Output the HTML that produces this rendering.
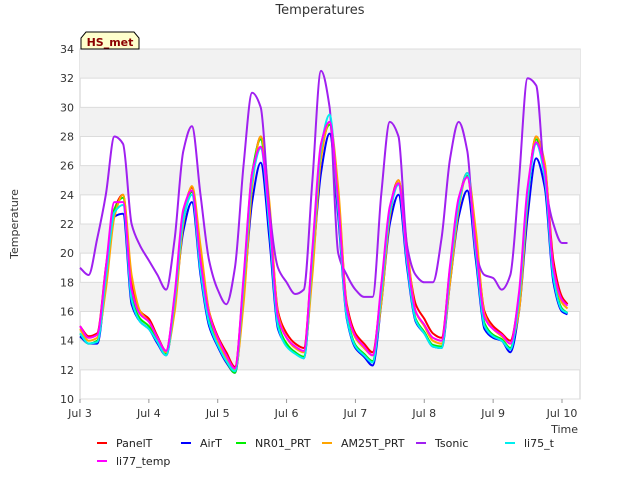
<!DOCTYPE html>
<html><head><meta charset="utf-8"><style>
body{margin:0;background:#fff;font-family:"Liberation Sans","DejaVu Sans",sans-serif;}
svg text{font-family:"DejaVu Sans","Liberation Sans",sans-serif;}
</style></head><body>
<svg id="chart" width="640" height="480">
<text x="320" y="14" text-anchor="middle" font-size="13" fill="#333">Temperatures</text>
<g id="bands"></g><g id="grid"></g><g id="axes"></g><g id="series"></g>
<text x="18" y="224" transform="rotate(-90 18 224)" text-anchor="middle" font-size="11" fill="#333">Temperature</text>
<text x="578" y="433" text-anchor="end" font-size="11" fill="#333">Time</text>
<g>
<path d="M81,49 L81,38 L86,32 L134,32 L139,38 L139,49 Z" fill="#ffffcc" stroke="#000" stroke-width="1"/>
<text x="110" y="46" text-anchor="middle" font-size="11" font-weight="bold" fill="#8b0000">HS_met</text>
</g>
<g id="legend"></g>
</svg>
<script>
const yTicks=[10,12,14,16,18,20,22,24,26,28,30,32,34];
const xTickLabels=["Jul 3","Jul 4","Jul 5","Jul 6","Jul 7","Jul 8","Jul 9","Jul 10"];
const xTickDays=[3,4,5,6,7,8,9,10];
const seriesNames=["PanelT","AirT","NR01_PRT","AM25T_PRT","Tsonic","li75_t","li77_temp"];
const seriesColors=["#ff0000","#0000ff","#00ee00","#ffa500","#a020f0","#00eeee","#ff00ff"];
const times=[3,3.125,3.25,3.375,3.5,3.625,3.75,3.875,4,4.125,4.25,4.375,4.5,4.625,4.75,4.875,5,5.125,5.25,5.375,5.5,5.625,5.75,5.875,6,6.125,6.25,6.375,6.5,6.625,6.75,6.875,7,7.125,7.25,7.375,7.5,7.625,7.75,7.875,8,8.125,8.25,8.375,8.5,8.625,8.75,8.875,9,9.125,9.25,9.375,9.5,9.625,9.75,9.875,10,10.08];
const panelT=[15,14.3,14.5,19,23,24,18,16,15.5,14.3,13.3,17,22.5,24.5,20,16,14.3,13.2,12.2,18,25,28,23,16,14.5,13.8,13.5,20,27,29,24,16.5,14.5,13.8,13.2,17.5,23,25,20,16.5,15.5,14.5,14.2,19,23.5,25.5,21,16,15,14.5,14,17,24,28,26,19.5,17,16.5];
const airT=[14.3,13.8,13.8,18,22.5,22.7,16.5,15.3,14.8,13.8,13,16.5,21.5,23.5,18.5,15,13.6,12.5,11.8,17,23.5,26.2,21,14.8,13.7,13.2,12.8,19,25.5,28.2,22.5,15.5,13.5,12.9,12.3,16.5,22,24,19,15.3,14.5,13.6,13.5,18,22.5,24.3,19.5,14.8,14.2,14,13.2,16,22.5,26.5,24.5,18,16,15.8];
const nr01=[14.5,13.8,14,18.5,23,23.8,17,15.5,15,14,13.1,17,22.5,24.2,19,15.5,13.8,12.6,11.8,18,25.5,27.8,22,15.2,13.8,13.2,12.9,20,27,28.8,23,15.8,13.7,13.1,12.6,17.5,23,24.8,19.5,15.5,14.6,13.7,13.6,19,23.5,25.3,20,15.2,14.4,14.1,13.5,17,24,27.8,25.5,18.5,16.2,15.9];
const am25t=[14.8,14,14.2,17.5,22.5,24,18.5,16,15.3,14.2,13.2,16,22,24.6,20.5,16,14,12.8,12,16.5,24.5,28,23.5,15.8,14.2,13.5,13.2,18.5,26.5,29,24.5,16.3,14.2,13.5,13,16.5,22.5,25,20.5,16,15,14,13.8,18,23,25.5,21.5,15.8,14.8,14.3,13.8,16,23.5,28,26.2,19,16.6,16.2];
const tsonic=[19,18.5,21,24,28,27.5,22,20.5,19.5,18.5,17.5,21,27,28.7,24,19.5,17.5,16.5,19,26,31,30,23,19,18,17.2,17.5,25,32.5,30,20,18.5,17.5,17,17,24,29,28,20.5,18.5,18,18,21,26.5,29,27,20,18.5,18.3,17.5,18.5,25,32,31.5,25,22,20.7,20.7];
const li75=[14.5,13.8,13.9,18.3,22.8,23.3,16.8,15.3,14.8,13.9,13,16.8,22.3,24,18.8,15.2,13.7,12.6,11.9,17.8,25,27.2,21.8,15,13.6,13.1,12.8,19.8,27.2,29.5,23,15.6,13.6,13,12.5,17.2,22.8,24.7,19.3,15.4,14.5,13.6,13.5,18.8,23.3,25.5,20,15,14.3,14,13.4,16.8,23.8,27.5,25.2,18.3,16.1,15.9];
const li77=[15,14.2,14.4,19,23.5,23.5,17.5,15.8,15.3,14.2,13.3,17.2,23,24.3,19.5,15.8,14.2,13,12.1,18.3,25.5,27.3,22.5,15.6,14.2,13.6,13.3,20.3,27.5,29,23.5,16.2,14.3,13.6,13,17.8,23.2,24.8,19.8,16,15.1,14.2,14,19.2,23.8,25.2,20.5,15.6,14.8,14.4,13.8,17.3,24.5,27.6,25.7,19,16.8,16.4];
const seriesValues=[panelT,airT,nr01,am25t,tsonic,li75,li77];
const L=80,R=580,T=49,B=399,ymin=10,ymax=34,xmin=3,xmax=10.2616;
const ys=v=>B-(v-ymin)*(B-T)/(ymax-ymin);
const xs=d=>L+(d-xmin)*(R-L)/(xmax-xmin);
const NS="http://www.w3.org/2000/svg";
function mk(tag,attrs,parent){const e=document.createElementNS(NS,tag);for(const k in attrs)e.setAttribute(k,attrs[k]);parent.appendChild(e);return e;}
function smoothPath(px,py){
  const n=px.length,m=[],d=[];
  for(let i=0;i<n-1;i++)d.push((py[i+1]-py[i])/(px[i+1]-px[i]));
  for(let i=0;i<n;i++){
    if(i===0)m.push(d[0]);else if(i===n-1)m.push(d[n-2]);
    else m.push(d[i-1]*d[i]<=0?0:2/(1/d[i-1]+1/d[i]));
  }
  let s='M'+px[0].toFixed(1)+','+py[0].toFixed(1);
  for(let i=0;i<n-1;i++){const h=(px[i+1]-px[i])/3;
    s+=' C'+(px[i]+h).toFixed(1)+','+(py[i]+m[i]*h).toFixed(1)+' '+(px[i+1]-h).toFixed(1)+','+(py[i+1]-m[i+1]*h).toFixed(1)+' '+px[i+1].toFixed(1)+','+py[i+1].toFixed(1);}
  return s;
}
const bands=document.getElementById('bands'),grid=document.getElementById('grid'),axes=document.getElementById('axes'),ser=document.getElementById('series'),leg=document.getElementById('legend');
mk('rect',{x:L,y:T,width:R-L,height:B-T,fill:'#fff',stroke:'#ccc'},bands);
for(let i=0;i<yTicks.length-1;i++){if((yTicks.length-2-i)%2===0){const r=mk('rect',{x:L,y:ys(yTicks[i+1]),width:R-L,height:ys(yTicks[i])-ys(yTicks[i+1]),fill:'#f2f2f2'},bands);

}}
yTicks.forEach(v=>{const l=mk('line',{x1:L,x2:R,y1:ys(v),y2:ys(v),stroke:'#dcdcdc'},grid);


const t=mk('text',{x:L-6,y:ys(v)+4,'text-anchor':'end','font-size':'11',fill:'#333'},axes);t.textContent=v;

});
xTickDays.forEach((d,i)=>{mk('line',{x1:xs(d),x2:xs(d),y1:B,y2:B+4,stroke:'#999'},axes);
const t=mk('text',{x:xs(d),y:B+18,'text-anchor':'middle','font-size':'11',fill:'#333'},axes);t.textContent=xTickLabels[i];

});
seriesValues.forEach((vals,si)=>{const d=smoothPath(times.map(xs),vals.map(ys));
const p=mk('path',{d:d,fill:'none',stroke:seriesColors[si],'stroke-width':'2','stroke-linejoin':'round'},ser);

});
const lx=[97,181,236,322,416,505,97],ly=[443,443,443,443,443,443,461];
seriesNames.forEach((n,i)=>{const g=mk('g',{},leg);


mk('line',{x1:lx[i],x2:lx[i]+10,y1:ly[i],y2:ly[i],stroke:seriesColors[i],'stroke-width':'2'},g);
const t=mk('text',{x:lx[i]+19,y:ly[i]+4,'font-size':'11',fill:'#222'},g);t.textContent=n;});
</script>
</body></html>
